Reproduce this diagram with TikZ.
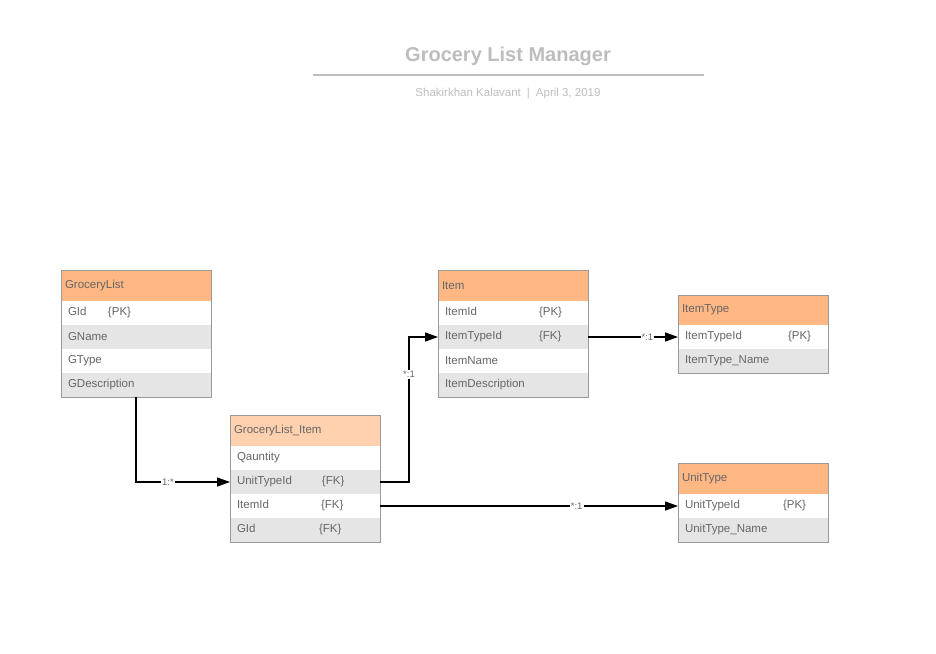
\documentclass[tikz,border=0pt]{standalone}
\usepackage{fontspec}
\setmainfont{Liberation Sans}
\usetikzlibrary{positioning}
\usetikzlibrary{arrows.meta}
\definecolor{head}{HTML}{FFB784}
\definecolor{headlight}{HTML}{FFD1AE}
\definecolor{stripe}{HTML}{E5E5E5}
\definecolor{frame}{HTML}{9A9A9A}
\definecolor{fieldtext}{HTML}{666666}
\definecolor{titlegray}{HTML}{BDBDBD}
\tikzset{
  % node options
  table head/.style={rectangle,draw=frame,line width=0.9pt,fill=head,anchor=north west,outer sep=0pt,
    minimum height=31pt,text width=142pt,inner xsep=4pt,inner ysep=0pt,align=left,text=fieldtext,
    font=\fontsize{11.5}{13}\selectfont},
  table head light/.style={table head,fill=headlight},
  field/.style={rectangle,fill=white,outer sep=0pt,minimum height=24pt,text width=136pt,
    inner xsep=7pt,inner ysep=0pt,align=left,text=fieldtext,font=\fontsize{11.5}{13}\selectfont},
  field striped/.style={field,fill=stripe},
  table frame/.style={draw=frame,line width=0.9pt},
  % path options
  relation/.style={-{Triangle[length=13pt,width=9pt]},line width=1.3pt},
  cardinality/.style={fill=white,inner sep=1pt,text=fieldtext,font=\fontsize{9.5}{10}\selectfont},
  % title options
  title/.style={text=titlegray,font=\bfseries\fontsize{20}{24}\selectfont},
  byline/.style={text=titlegray,font=\fontsize{11.5}{13}\selectfont},
}
\newcommand{\keyed}[3]{\makebox[#1][l]{#2}#3}

\begin{document}
\begin{tikzpicture}[x=1pt,y=-1pt]
    \useasboundingbox (0,0) rectangle (936,653);
    % title
    \node[title] (title) at (508,56) {Grocery List Manager};
    \draw[titlegray,line width=1.3pt] (313,75) -- (704,75);
    \node[byline] (byline) at (508,94) {Shakirkhan Kalavant\hspace{6pt}|\hspace{6pt}April 3, 2019};
    % GroceryList
    \node[table head] (GL) at (61,270) {GroceryList};
    \node[field,below=0pt of GL] (GL1) {\keyed{40pt}{GId}{\{PK\}}};
    \node[field striped,below=0pt of GL1] (GL2) {GName};
    \node[field,below=0pt of GL2] (GL3) {GType};
    \node[field striped,below=0pt of GL3] (GL4) {GDescription};
    \draw[table frame] (GL.north west) rectangle (GL4.south east);
    % Item
    \node[table head] (IT) at (438,270) {Item};
    \node[field,below=0pt of IT] (IT1) {\keyed{94pt}{ItemId}{\{PK\}}};
    \node[field striped,below=0pt of IT1] (IT2) {\keyed{94pt}{ItemTypeId}{\{FK\}}};
    \node[field,below=0pt of IT2] (IT3) {ItemName};
    \node[field striped,below=0pt of IT3] (IT4) {ItemDescription};
    \draw[table frame] (IT.north west) rectangle (IT4.south east);
    % ItemType
    \node[table head,minimum height=30pt] (ITT) at (678,295) {ItemType};
    \node[field,below=0pt of ITT] (ITT1) {\keyed{103pt}{ItemTypeId}{\{PK\}}};
    \node[field striped,below=0pt of ITT1] (ITT2) {ItemType\_Name};
    \draw[table frame] (ITT.north west) rectangle (ITT2.south east);
    % GroceryList_Item
    \node[table head light] (GLI) at (230,415) {GroceryList\_Item};
    \node[field,below=0pt of GLI] (GLI1) {Qauntity};
    \node[field striped,below=0pt of GLI1] (GLI2) {\keyed{85pt}{UnitTypeId}{\{FK\}}};
    \node[field,below=0pt of GLI2] (GLI3) {\keyed{84pt}{ItemId}{\{FK\}}};
    \node[field striped,below=0pt of GLI3] (GLI4) {\keyed{82pt}{GId}{\{FK\}}};
    \draw[table frame] (GLI.north west) rectangle (GLI4.south east);
    % UnitType
    \node[table head] (UT) at (678,463) {UnitType};
    \node[field,below=0pt of UT] (UT1) {\keyed{98pt}{UnitTypeId}{\{PK\}}};
    \node[field striped,below=0pt of UT1] (UT2) {UnitType\_Name};
    \draw[table frame] (UT.north west) rectangle (UT2.south east);
    % relations
    \draw[relation] (GL4.south) |- node[cardinality,pos=0.67] {1:*} (GLI2.west);
    \draw[relation] (GLI2.east) -- ++(29,0) |- node[cardinality,pos=0.37] {*:1} (IT2.west);
    \draw[relation] (IT2.east) -- node[cardinality,pos=0.66] {*:1} (ITT1.west);
    \draw[relation] (GLI3.east) -- node[cardinality,pos=0.66] {*:1} (UT1.west);
  \end{tikzpicture}
\end{document}
